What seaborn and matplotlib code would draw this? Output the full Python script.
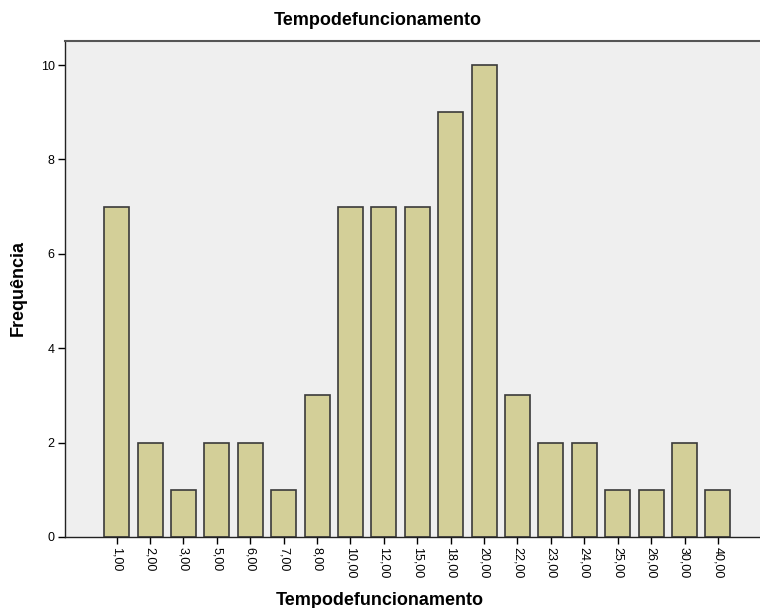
import matplotlib
matplotlib.use('Agg')
import matplotlib.pyplot as plt
import seaborn as sns
import pandas as pd

# Values
categories = ['1,00', '2,00', '3,00', '5,00', '6,00', '7,00', '8,00', '10,00', '12,00', '15,00',
              '18,00', '20,00', '22,00', '23,00', '24,00', '25,00', '26,00', '30,00', '40,00']
frequencies = [7, 2, 1, 2, 2, 1, 3, 7, 7, 7, 9, 10, 3, 2, 2, 1, 1, 2, 1]
y_ticks = [0, 2, 4, 6, 8, 10]

df = pd.DataFrame({'tempo': categories, 'freq': frequencies})

sns.set_style('white')
plt.rcParams['font.family'] = ['Liberation Sans', 'DejaVu Sans']
plt.rcParams['text.color'] = 'black'
plt.rcParams['xtick.color'] = 'black'
plt.rcParams['ytick.color'] = 'black'

fig = plt.figure(figsize=(7.6, 6.08), dpi=100)
ax = fig.add_axes([0.0849, 0.1168, 0.9151, 0.8158])
ax.set_facecolor('#efefef')

sns.barplot(data=df, x='tempo', y='freq', color='#d3cf98', saturation=1,
            edgecolor='#3a3a3a', linewidth=1.2, width=0.75, ax=ax)

ax.set_xlim(-1.56, 19.26)
ax.set_ylim(0, 10.51)
ax.set_yticks(y_ticks)
ax.set_yticklabels([str(t) for t in y_ticks], fontsize=9)
ax.tick_params(axis='x', labelrotation=270, labelsize=9, length=5, width=1, direction='out',
               bottom=True, pad=2)
ax.tick_params(axis='y', length=5, width=1, direction='out', left=True, pad=2)

for s in ['left', 'bottom', 'top']:
    ax.spines[s].set_color('#222222')
    ax.spines[s].set_linewidth(1)
ax.spines['top'].set_color('#555555')
ax.spines['top'].set_linewidth(1.5)
ax.spines['right'].set_visible(False)

ax.set_xlabel('')
ax.set_ylabel('')
fig.text(0.497, 0.966, 'Tempodefuncionamento', ha='center', va='center', fontsize=13, fontweight='bold')
fig.text(0.5, 0.013, 'Tempodefuncionamento', ha='center', va='center', fontsize=13, fontweight='bold')
fig.text(0.024, 0.526, 'Frequência', ha='center', va='center', rotation=90, fontsize=13, fontweight='bold')

fig.savefig('out.png', dpi=100)
